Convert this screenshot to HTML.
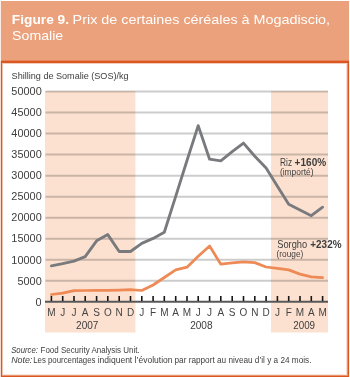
<!DOCTYPE html>
<html><head><meta charset="utf-8"><style>
html,body{margin:0;padding:0;background:#fff;width:350px;height:377px;overflow:hidden;position:relative;font-family:"Liberation Sans",sans-serif;}
#hdr{position:absolute;left:1px;top:1px;width:348px;height:59px;background:#EBA17B;}
.bd{position:absolute;background:#DA5722;}
svg{position:absolute;left:0;top:0;will-change:transform;font-family:"Liberation Sans",sans-serif;}
</style></head><body>
<div id="hdr"></div>
<div style="position:absolute;left:1px;top:60px;width:348px;height:1px;background:#E5865B"></div><div class="bd" style="left:1px;top:61px;width:348px;height:2px"></div><div style="position:absolute;left:3px;top:63px;width:344px;height:1px;background:#F4CCBC"></div>
<div class="bd" style="left:1px;top:61px;width:1px;height:316px"></div><div style="position:absolute;left:2px;top:63px;width:1px;height:312px;background:#F2C2AD"></div><div style="position:absolute;left:0px;top:61px;width:1px;height:316px;background:#F8DACE"></div><div style="position:absolute;left:0px;top:1px;width:1px;height:60px;background:#FBEDE5"></div>
<div style="position:absolute;left:346px;top:63px;width:1px;height:312px;background:#F9E0D5"></div><div style="position:absolute;left:347px;top:63px;width:1px;height:312px;background:#E9906B"></div><div class="bd" style="left:348px;top:61px;width:1px;height:316px"></div><div style="position:absolute;left:349px;top:61px;width:1px;height:316px;background:#FCEDE6"></div>
<div style="position:absolute;left:3px;top:374px;width:343px;height:1px;background:#FBE6DC"></div><div style="position:absolute;left:2px;top:375px;width:346px;height:1px;background:#E9936F"></div><div class="bd" style="left:1px;top:376px;width:348px;height:1px"></div>
<svg width="350" height="377" viewBox="0 0 350 377">
<rect x="45" y="91" width="90.4" height="241.5" fill="#FCE1D0"/>
<rect x="271" y="91" width="57" height="241.5" fill="#FCE1D0"/>
<g stroke="#000" stroke-opacity="0.2" stroke-width="2"><line x1="45.5" y1="91.50" x2="328" y2="91.50"/><line x1="45.5" y1="112.54" x2="328" y2="112.54"/><line x1="45.5" y1="133.58" x2="328" y2="133.58"/><line x1="45.5" y1="154.62" x2="328" y2="154.62"/><line x1="45.5" y1="175.66" x2="328" y2="175.66"/><line x1="45.5" y1="196.70" x2="328" y2="196.70"/><line x1="45.5" y1="217.74" x2="328" y2="217.74"/><line x1="45.5" y1="238.78" x2="328" y2="238.78"/><line x1="45.5" y1="259.82" x2="328" y2="259.82"/><line x1="45.5" y1="280.86" x2="328" y2="280.86"/></g>
<polyline points="51.4,265.8 62.7,263.7 74.0,261.1 85.2,256.6 96.6,240.8 107.8,234.6 119.2,251.5 130.5,251.5 141.8,243.4 153.1,238.4 164.3,232.3 175.7,196.4 187.0,160.5 198.2,125.6 209.6,159.2 220.8,160.9 232.2,151.6 243.5,143.1 254.8,156.3 266.1,168.1 277.4,186.2 288.7,204.3 300.0,210.0 311.3,215.7 322.6,207.2" fill="none" stroke="#797A7D" stroke-width="2.85" stroke-linejoin="round" stroke-linecap="round"/>
<polyline points="51.4,294.5 62.7,293.1 74.0,290.6 85.2,290.5 96.6,290.4 107.8,290.4 119.2,290.1 130.5,289.7 141.8,290.5 153.1,285.0 164.3,277.5 175.7,269.9 187.0,267.2 198.2,256.2 209.6,246.0 220.8,264.2 232.2,262.8 243.5,261.8 254.8,262.6 266.1,267.0 277.4,268.3 288.7,269.9 300.0,274.1 311.3,276.8 322.6,277.7" fill="none" stroke="#EE8A56" stroke-width="2.75" stroke-linejoin="round" stroke-linecap="round"/>
<line x1="45" y1="301.8" x2="328" y2="301.8" stroke="#585858" stroke-width="2"/>
<g stroke="#151515" stroke-width="1.6"><line x1="51.4" y1="296" x2="51.4" y2="301"/><line x1="62.7" y1="296" x2="62.7" y2="301"/><line x1="74.0" y1="296" x2="74.0" y2="301"/><line x1="85.2" y1="296" x2="85.2" y2="301"/><line x1="96.6" y1="296" x2="96.6" y2="301"/><line x1="107.8" y1="296" x2="107.8" y2="301"/><line x1="119.2" y1="296" x2="119.2" y2="301"/><line x1="130.5" y1="296" x2="130.5" y2="301"/><line x1="141.8" y1="296" x2="141.8" y2="301"/><line x1="153.1" y1="296" x2="153.1" y2="301"/><line x1="164.3" y1="296" x2="164.3" y2="301"/><line x1="175.7" y1="296" x2="175.7" y2="301"/><line x1="187.0" y1="296" x2="187.0" y2="301"/><line x1="198.2" y1="296" x2="198.2" y2="301"/><line x1="209.6" y1="296" x2="209.6" y2="301"/><line x1="220.8" y1="296" x2="220.8" y2="301"/><line x1="232.2" y1="296" x2="232.2" y2="301"/><line x1="243.5" y1="296" x2="243.5" y2="301"/><line x1="254.8" y1="296" x2="254.8" y2="301"/><line x1="266.1" y1="296" x2="266.1" y2="301"/><line x1="277.4" y1="296" x2="277.4" y2="301"/><line x1="288.7" y1="296" x2="288.7" y2="301"/><line x1="300.0" y1="296" x2="300.0" y2="301"/><line x1="311.3" y1="296" x2="311.3" y2="301"/><line x1="322.6" y1="296" x2="322.6" y2="301"/></g>
<g font-size="10" fill="#444" text-anchor="middle"><text x="51.4" y="316.1">M</text><text x="62.7" y="316.1">J</text><text x="74.0" y="316.1">J</text><text x="85.2" y="316.1">A</text><text x="96.6" y="316.1">S</text><text x="107.8" y="316.1">O</text><text x="119.2" y="316.1">N</text><text x="130.5" y="316.1">D</text><text x="141.8" y="316.1">J</text><text x="153.1" y="316.1">F</text><text x="164.3" y="316.1">M</text><text x="175.7" y="316.1">A</text><text x="187.0" y="316.1">M</text><text x="198.2" y="316.1">J</text><text x="209.6" y="316.1">J</text><text x="220.8" y="316.1">A</text><text x="232.2" y="316.1">S</text><text x="243.5" y="316.1">O</text><text x="254.8" y="316.1">N</text><text x="266.1" y="316.1">D</text><text x="277.4" y="316.1">J</text><text x="288.7" y="316.1">F</text><text x="300.0" y="316.1">M</text><text x="311.3" y="316.1">A</text><text x="322.6" y="316.1">M</text></g>
<g font-size="10.8" fill="#3d3d3d" text-anchor="end"><text x="41.71" y="95.20" textLength="30.33" lengthAdjust="spacingAndGlyphs">50000</text><text x="41.71" y="116.24" textLength="30.33" lengthAdjust="spacingAndGlyphs">45000</text><text x="41.71" y="137.28" textLength="30.33" lengthAdjust="spacingAndGlyphs">40000</text><text x="41.71" y="158.32" textLength="30.33" lengthAdjust="spacingAndGlyphs">35000</text><text x="41.71" y="179.36" textLength="30.33" lengthAdjust="spacingAndGlyphs">30000</text><text x="41.71" y="200.40" textLength="30.33" lengthAdjust="spacingAndGlyphs">25000</text><text x="41.71" y="221.44" textLength="30.33" lengthAdjust="spacingAndGlyphs">20000</text><text x="41.71" y="242.48" textLength="30.33" lengthAdjust="spacingAndGlyphs">15000</text><text x="41.71" y="263.52" textLength="30.33" lengthAdjust="spacingAndGlyphs">10000</text><text x="41.71" y="284.56" textLength="24.27" lengthAdjust="spacingAndGlyphs">5000</text><text x="41.71" y="305.60" textLength="6.07" lengthAdjust="spacingAndGlyphs">0</text></g>
<text x="11.88" y="23.6" font-size="13.5" font-weight="bold" font-style="normal" fill="#fff" textLength="57.15" lengthAdjust="spacingAndGlyphs">Figure 9.</text>
<text x="72.64" y="23.6" font-size="13.5" font-weight="normal" font-style="normal" fill="#fff" textLength="257.46" lengthAdjust="spacingAndGlyphs">Prix de certaines céréales à Mogadiscio,</text>
<text x="12.12" y="40.0" font-size="13.5" font-weight="normal" font-style="normal" fill="#fff" textLength="51.04" lengthAdjust="spacingAndGlyphs">Somalie</text>
<text x="11.62" y="79.4" font-size="9.5" font-weight="normal" font-style="normal" fill="#3d3d3d" textLength="116.99" lengthAdjust="spacingAndGlyphs">Shilling de Somalie (SOS)/kg</text>
<text x="280.05" y="165.8" font-size="10.2" font-weight="normal" font-style="normal" fill="#3d3d3d" textLength="11.99" lengthAdjust="spacingAndGlyphs">Riz</text>
<text x="294.60" y="165.8" font-size="10.2" font-weight="bold" font-style="normal" fill="#3d3d3d" textLength="31.61" lengthAdjust="spacingAndGlyphs">+160%</text>
<text x="279.95" y="174.6" font-size="8.3" font-weight="normal" font-style="normal" fill="#3d3d3d" textLength="33.56" lengthAdjust="spacingAndGlyphs">(importé)</text>
<text x="277.24" y="247.9" font-size="10.2" font-weight="normal" font-style="normal" fill="#3d3d3d" textLength="29.98" lengthAdjust="spacingAndGlyphs">Sorgho</text>
<text x="310.31" y="247.9" font-size="10.2" font-weight="bold" font-style="normal" fill="#3d3d3d" textLength="31.20" lengthAdjust="spacingAndGlyphs">+232%</text>
<text x="276.60" y="256.6" font-size="8.3" font-weight="normal" font-style="normal" fill="#3d3d3d" textLength="26.70" lengthAdjust="spacingAndGlyphs">(rouge)</text>
<text x="11.19" y="353.0" font-size="9.0" font-weight="normal" font-style="italic" fill="#3d3d3d" textLength="26.66" lengthAdjust="spacingAndGlyphs">Source:</text>
<text x="40.52" y="353.0" font-size="9.0" font-weight="normal" font-style="normal" fill="#3d3d3d" textLength="99.18" lengthAdjust="spacingAndGlyphs">Food Security Analysis Unit.</text>
<text x="11.15" y="363.3" font-size="9.0" font-weight="normal" font-style="italic" fill="#3d3d3d" textLength="21.11" lengthAdjust="spacingAndGlyphs">Note:</text>
<text x="33.23" y="363.3" font-size="9.0" font-weight="normal" font-style="normal" fill="#3d3d3d" textLength="62.22" lengthAdjust="spacingAndGlyphs">Les pourcentages</text>
<text x="97.63" y="363.3" font-size="9.0" font-weight="normal" font-style="normal" fill="#3d3d3d" textLength="74.91" lengthAdjust="spacingAndGlyphs">indiquent l’évolution</text>
<text x="174.54" y="363.3" font-size="9.0" font-weight="normal" font-style="normal" fill="#3d3d3d" textLength="136.93" lengthAdjust="spacingAndGlyphs">par rapport au niveau d’il y a 24 mois.</text>
<text x="76.05" y="328.6" font-size="10" font-weight="normal" font-style="normal" fill="#3d3d3d" textLength="22.41" lengthAdjust="spacingAndGlyphs">2007</text>
<text x="190.15" y="328.6" font-size="10" font-weight="normal" font-style="normal" fill="#3d3d3d" textLength="22.41" lengthAdjust="spacingAndGlyphs">2008</text>
<text x="293.26" y="328.6" font-size="10" font-weight="normal" font-style="normal" fill="#3d3d3d" textLength="21.83" lengthAdjust="spacingAndGlyphs">2009</text>

</svg>
</body></html>
